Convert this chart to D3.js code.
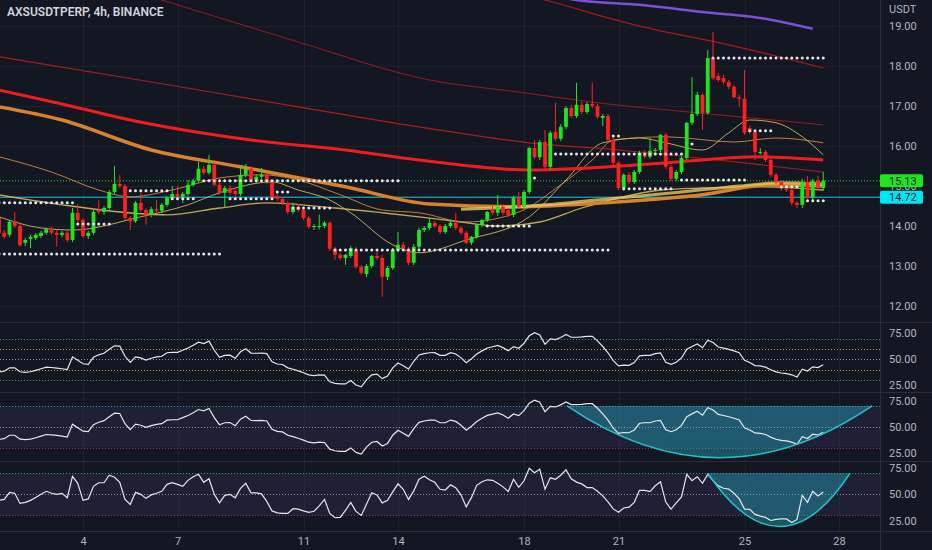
<!DOCTYPE html>
<html>
<head>
<meta charset="utf-8">
<script src="https://cdn.jsdelivr.net/npm/d3@7"></script>
<style>
  html, body { margin: 0; padding: 0; background: #131722; }
  svg { display: block; }
  text { font-family: Roboto, "Noto Sans", sans-serif; }
</style>
</head>
<body>
<div id="chart"></div>
<script>
// ---------- data ----------
const candleStart = new Date(2022, 6, 1, 8);   // first 4h bar
const barHours = 4;

// [open, high, low, close]
const ohlc = [
  [14.20,14.28,13.75,13.83],[13.83,13.90,13.68,13.73],[13.78,14.15,13.72,14.10],[14.12,14.35,13.95,14.00],
  [14.00,14.05,13.48,13.52],[13.58,13.70,13.50,13.65],[13.68,13.78,13.45,13.73],[13.70,13.82,13.65,13.78],
  [13.75,13.88,13.70,13.83],[13.83,13.96,13.78,13.92],[13.92,13.98,13.78,13.83],[13.83,13.90,13.48,13.78],
  [13.78,13.88,13.72,13.83],[13.83,13.88,13.60,13.65],[13.65,14.45,13.60,14.33],[14.33,14.55,14.10,14.15],
  [14.15,14.20,13.70,13.75],[13.75,13.88,13.68,13.83],[13.83,14.40,13.78,14.35],[14.40,14.65,14.30,14.35],
  [14.35,14.50,14.28,14.45],[14.45,14.90,14.40,14.85],[14.85,15.50,14.80,15.05],[15.05,15.28,14.95,15.00],
  [15.00,15.05,14.15,14.20],[14.20,14.25,13.90,14.12],[14.12,14.62,14.08,14.58],[14.58,14.83,14.35,14.40],
  [14.40,14.45,14.03,14.28],[14.28,14.48,14.22,14.42],[14.42,14.65,14.32,14.38],[14.38,14.58,14.32,14.53],
  [14.53,14.75,14.48,14.70],[14.70,15.00,14.65,14.80],[14.80,15.00,14.68,14.73],[14.73,14.85,14.58,14.80],
  [14.80,15.15,14.75,15.03],[15.03,15.18,14.98,15.13],[15.13,15.60,15.08,15.43],[15.43,15.50,15.28,15.33],
  [15.33,15.78,15.28,15.53],[15.53,15.58,15.00,15.03],[15.03,15.08,14.78,14.83],[14.83,15.00,14.48,14.95],
  [14.95,15.02,14.78,14.83],[14.88,14.95,14.75,14.80],[14.80,15.50,14.75,15.28],[15.28,15.55,15.22,15.43],
  [15.43,15.50,15.12,15.15],[15.15,15.28,15.08,15.23],[15.23,15.45,15.18,15.28],[15.28,15.33,15.05,15.10],
  [15.10,15.15,14.65,14.70],[14.75,14.80,14.62,14.68],[14.68,14.73,14.52,14.58],[14.58,14.62,14.30,14.35],
  [14.35,14.58,14.30,14.48],[14.48,14.55,14.35,14.40],[14.40,14.45,14.15,14.20],[14.20,14.25,13.93,13.98],
  [13.98,14.05,13.90,14.00],[13.98,14.28,13.92,14.00],[14.00,14.12,13.95,14.08],[14.08,14.12,13.38,13.43],
  [13.43,13.48,13.15,13.28],[13.28,13.32,13.15,13.20],[13.20,13.30,13.03,13.28],[13.25,13.50,13.20,13.45],
  [13.40,13.48,12.93,12.98],[12.98,13.02,12.78,12.83],[12.80,13.05,12.72,13.00],[13.00,13.28,12.95,13.25],
  [13.25,13.35,13.15,13.20],[13.20,13.28,12.23,12.73],[12.73,13.00,12.65,12.95],[12.95,13.45,12.90,13.40],
  [13.40,13.85,13.35,13.53],[13.53,13.60,13.38,13.43],[13.43,13.48,13.02,13.08],[13.08,13.55,13.02,13.48],
  [13.48,13.95,13.42,13.90],[13.90,14.00,13.85,13.95],[13.95,14.20,13.90,14.08],[14.08,14.12,13.95,14.00],
  [14.00,14.05,13.80,13.85],[13.85,14.05,13.80,14.00],[14.00,14.12,13.95,14.08],[14.08,14.33,13.90,13.95],
  [13.95,14.00,13.78,13.83],[13.83,13.88,13.55,13.58],[13.58,13.75,13.52,13.73],[13.73,14.05,13.68,14.03],
  [14.03,14.18,13.98,14.15],[14.15,14.38,14.10,14.35],[14.40,14.50,14.28,14.33],[14.33,14.78,14.25,14.48],
  [14.48,14.55,14.28,14.33],[14.40,14.45,14.22,14.28],[14.28,14.75,14.22,14.70],[14.70,14.85,14.42,14.48],
  [14.48,14.90,14.42,14.85],[14.85,15.98,14.80,15.95],[15.95,16.15,15.68,15.72],[15.72,16.15,15.65,16.10],
  [16.10,16.40,15.42,15.48],[15.48,16.38,15.42,16.33],[16.35,17.08,16.12,16.18],[16.18,16.55,16.12,16.48],
  [16.48,17.00,16.42,16.95],[16.95,17.02,16.70,16.75],[16.75,17.58,16.70,17.03],[17.03,17.10,16.80,16.85],
  [16.85,17.10,16.80,17.05],[17.05,17.58,16.95,17.00],[17.00,17.05,16.68,16.73],[16.70,16.80,16.50,16.75],
  [16.75,16.80,16.10,16.15],[16.15,16.20,15.52,15.58],[15.58,15.62,14.90,14.95],[14.95,15.32,14.88,15.28],
  [15.28,15.35,15.05,15.10],[15.10,15.40,15.05,15.35],[15.35,15.88,15.30,15.83],[15.83,15.90,15.68,15.73],
  [15.73,16.20,15.68,15.88],[15.88,15.95,15.82,15.90],[15.90,16.30,15.85,16.28],[16.28,16.33,15.42,15.48],
  [15.48,15.52,15.12,15.18],[15.18,15.40,15.12,15.35],[15.35,15.75,15.30,15.70],[15.70,16.60,15.65,16.58],
  [16.58,17.72,16.52,16.80],[16.80,17.35,16.75,17.28],[17.28,17.32,16.40,16.83],[16.83,18.40,16.78,18.20],
  [18.20,18.85,17.65,17.70],[17.75,17.82,17.60,17.65],[17.70,17.78,17.55,17.60],[17.60,17.65,17.42,17.48],
  [17.48,17.52,17.18,17.22],[17.22,17.28,16.98,17.18],[17.18,17.90,16.28,16.33],[16.45,16.50,16.30,16.35],
  [16.35,16.40,15.65,15.85],[15.83,15.95,15.78,15.85],[15.85,15.90,15.60,15.65],[15.65,15.70,15.22,15.28],
  [15.28,15.33,15.05,15.10],[15.10,15.15,14.88,14.93],[14.93,15.00,14.85,14.90],[14.90,14.95,14.52,14.58],
  [14.58,14.62,14.45,14.53],[14.53,15.18,14.45,15.10],[15.10,15.25,14.68,14.72],[14.72,15.18,14.65,15.13],
  [15.13,15.25,14.90,14.95],[14.95,15.35,14.88,15.13]
];

// slow RSI (drawn in pane 1 and pane 2)
const rsiSlow = [
  37.8,38.5,41.8,41.8,38.0,37.5,38.0,39.4,40.9,42.5,42.1,41.6,40.9,40.1,52.4,49.0,45.7,45.2,51.9,54.3,
  55.8,59.6,63.0,62.7,52.9,47.1,52.4,51.4,49.3,51.0,52.3,52.9,56.3,56.7,56.7,58.7,60.8,63.5,66.5,65.2,
  67.5,58.7,51.9,53.8,54.0,51.0,57.2,60.1,56.0,55.8,56.0,55.5,47.6,45.5,45.0,41.8,40.4,38.9,37.1,35.1,
  34.4,35.1,34.8,28.4,26.9,26.3,26.3,29.6,25.3,23.6,30.3,35.1,35.8,31.4,33.9,41.8,46.5,43.8,40.7,48.1,
  54.2,55.5,56.3,56.4,53.8,53.8,56.4,55.1,51.4,46.7,50.5,55.0,58.1,60.9,62.1,63.3,61.2,58.2,62.2,60.6,
  65.4,72.6,75.5,73.5,64.4,69.6,69.0,71.0,73.8,71.2,71.2,71.5,72.1,72.1,67.7,62.3,56.3,48.7,43.6,44.4,
  44.2,46.9,53.3,53.8,53.8,55.5,56.1,47.1,45.2,47.1,51.3,59.6,62.3,64.8,61.1,68.3,66.1,61.8,60.8,59.6,
  58.1,56.4,49.0,46.9,44.0,43.6,42.5,40.0,37.9,36.8,36.3,35.1,33.0,40.4,38.7,42.8,42.0,44.7
];

// fast RSI (pane 3)
const rsiFast = [
  44.3,45.2,51.9,51.0,41.4,42.4,44.3,47.1,50.0,52.9,51.0,50.0,51.0,46.7,67.1,60.5,44.3,45.7,57.6,61.0,
  61.0,68.1,66.2,61.4,45.2,40.5,51.9,50.0,46.2,49.5,51.0,52.9,59.5,61.1,59.5,57.6,63.3,66.7,69.0,61.4,
  64.8,50.0,41.9,49.0,50.0,46.7,55.7,60.5,51.4,51.4,50.5,43.3,34.3,32.4,31.9,31.9,36.4,35.9,34.3,32.9,
  34.0,39.0,45.2,31.9,27.8,28.1,34.8,42.4,33.8,30.0,40.5,51.6,49.5,41.9,44.3,52.4,60.0,54.8,45.2,53.3,
  64.3,67.1,63.8,61.4,54.8,54.1,59.0,56.2,49.5,38.1,47.1,58.6,61.9,63.8,63.3,60.5,57.1,52.7,64.3,56.7,
  62.9,74.8,70.5,73.8,54.8,65.7,64.3,68.1,73.3,64.8,61.6,59.9,56.4,56.4,52.9,48.6,42.9,36.2,33.1,37.1,
  37.9,42.4,53.8,53.8,52.6,58.1,61.9,42.7,36.0,41.9,47.6,69.0,62.9,66.7,60.5,69.0,63.0,58.0,55.8,55.0,
  51.0,45.7,36.0,35.7,31.0,29.3,28.1,25.2,26.2,26.7,26.7,23.3,26.2,49.0,42.4,52.9,48.4,52.2
];

// moving averages: [bar index, price]
const maRedThick    = [[0,17.40],[12,17.05],[25,16.65],[48,16.15],[66,15.90],[80,15.65],[101,15.40],[122,15.53],[132,15.63],[144,15.73],[157,15.65]];
const maOrangeThick = [[0,16.98],[12,16.65],[29,15.90],[46,15.48],[66,14.98],[82,14.55],[99,14.48],[115,14.58],[134,14.78],[147,15.03],[157,15.00]];
const maYellowThick = [[88,14.42],[99,14.48],[114,14.65],[130,14.85],[141,15.00],[149,15.08],[157,15.05]];
const maRedA   = [[0,20.85],[31,19.65],[57,18.60],[82,17.65],[99,17.35],[114,17.08],[133,16.83],[157,16.53]];
const maRedB   = [[0,18.23],[29,17.60],[57,16.98],[80,16.48],[101,16.08],[118,15.90],[137,15.65],[157,15.35]];
const maRedC   = [[95,19.95],[104,19.65],[121,19.03],[139,18.53],[157,17.95]];
const maPurple = [[107,19.72],[110,19.65],[122,19.53],[134,19.35],[145,19.20],[155,18.93]];
const maTanFast = [[0,14.23],[8,13.95],[14,13.90],[27,14.23],[36,14.53],[42,14.83],[52,15.10],[57,14.90],[63,14.65],[67,14.33],
  [75,13.53],[80,13.33],[89,13.65],[101,14.23],[108,15.15],[115,16.08],[122,16.20],[127,16.08],[134,15.90],[139,16.33],
  [143,16.65],[148,16.58],[153,16.23],[157,15.78]];
const maOrangeMid = [[0,15.73],[10,15.35],[19,14.90],[25,14.73],[33,14.90],[42,15.20],[50,15.28],[57,15.15],[65,14.78],[73,14.40],
  [80,14.33],[89,14.10],[99,14.35],[107,15.03],[113,15.65],[117,16.15],[127,16.23],[140,16.10],[148,16.20],[157,16.08]];
const maTanSlow = [[0,14.78],[12,14.53],[23,14.35],[32,14.28],[42,14.45],[51,14.58],[64,14.45],[73,14.33],[80,14.23],[88,14.10],
  [95,14.00],[103,14.10],[111,14.45],[118,14.70],[126,14.90],[134,14.95],[145,14.98],[157,14.90]];

// dotted pivot levels: [price, first bar, last bar]
const pivots = [
  [14.58,0,14],[13.30,0,42],[14.05,15,21],[14.88,25,32],[14.68,33,37],[15.13,39,76],[14.68,44,52],
  [14.85,53,55],[14.45,56,63],[13.40,64,116],[14.00,93,101],[15.20,102,102],[15.80,106,130],[16.25,117,118],
  [14.93,119,128],[15.15,130,142],[16.05,132,132],[18.20,136,157],[16.38,143,147],[14.98,149,152],[14.63,154,157]
];

// arc drawings on the RSI panes: [bar index, value] for start, bottom, end
const arcSlow = [[108.2,70],[137.3,20.2],[166.3,70]];
const arcFast = [[135,70],[148.8,19.5],[162.1,70]];

const lastPrice = 15.13;
const hLinePrice = 14.72;
const priceTicks = [19, 18, 17, 16, 15, 14, 13, 12];
const rsiTicks = [75, 50, 25];
const dayTicks = [4, 7, 11, 14, 18, 21, 25, 28];

// ---------- layout ----------
const width = 932, height = 550;
const plotRight = 880;
const mainBottom = 322;
const panes = [
  { top: 322, bottom: 392, r75: 333.3, r25: 385.3 },
  { top: 392, bottom: 461, r75: 400.7, r25: 452.7 },
  { top: 461, bottom: 531, r75: 468, r25: 520.7 }
];
const axisY = 531;

const bg = "#131722";
const gridColor = "#1e222d";
const textColor = "#b2b5be";

const svg = d3.select("#chart")
  .append("svg")
  .attr("width", width)
  .attr("height", height)
  .style("background", bg);

// ---------- scales ----------
const barTime = i => new Date(candleStart.getTime() + i * barHours * 3600e3);

const x = d3.scaleTime()
  .domain([new Date(2022, 6, 4), new Date(2022, 6, 28)])
  .range([83, 839]);

const y = d3.scaleLinear()
  .domain([19, 12])
  .range([26, 306]);

const defs = svg.append("defs");
defs.append("clipPath").attr("id", "clip-main")
  .append("rect").attr("x", 0).attr("y", 0).attr("width", plotRight).attr("height", mainBottom);

// vertical grid through all panes
svg.append("g")
  .selectAll("line")
  .data(dayTicks)
  .join("line")
  .attr("x1", d => Math.round(x(new Date(2022, 6, d))) + 0.5)
  .attr("x2", d => Math.round(x(new Date(2022, 6, d))) + 0.5)
  .attr("y1", 0)
  .attr("y2", axisY)
  .attr("stroke", gridColor);

// ---------- main pane ----------
const main = svg.append("g").attr("clip-path", "url(#clip-main)");

main.append("g")
  .selectAll("line")
  .data(priceTicks)
  .join("line")
  .attr("x1", 0)
  .attr("x2", plotRight)
  .attr("y1", d => Math.round(y(d)) + 0.5)
  .attr("y2", d => Math.round(y(d)) + 0.5)
  .attr("stroke", gridColor);

// horizontal line and last price line
main.append("line")
  .attr("x1", 0).attr("x2", plotRight)
  .attr("y1", y(hLinePrice)).attr("y2", y(hLinePrice))
  .attr("stroke", "#1fc8dc").attr("stroke-width", 1);

main.append("line")
  .attr("x1", 0).attr("x2", plotRight)
  .attr("y1", y(lastPrice)).attr("y2", y(lastPrice))
  .attr("stroke", "#2ecc40").attr("stroke-width", 1)
  .attr("stroke-dasharray", "1,2");

// moving averages
const maLine = d3.line()
  .x(d => x(barTime(d[0])))
  .y(d => y(d[1]))
  .curve(d3.curveMonotoneX);

const maStyles = [
  { data: maTanSlow,     color: "#d6b654", w: 1.3, op: 0.9 },
  { data: maOrangeMid,   color: "#d3893a", w: 1,   op: 0.9 },
  { data: maTanFast,     color: "#cdb95c", w: 1,   op: 0.9 },
  { data: maRedB,        color: "#b41c1c", w: 1.2, op: 0.95 },
  { data: maRedA,        color: "#a51818", w: 1,   op: 0.95 },
  { data: maRedC,        color: "#b01a1a", w: 1.2, op: 0.95 },
  { data: maOrangeThick, color: "#d9822b", w: 3.5, op: 1 },
  { data: maYellowThick, color: "#e6c865", w: 3,   op: 0.8 },
  { data: maRedThick,    color: "#f21c1c", w: 3,   op: 1 },
  { data: maPurple,      color: "#7c4fd8", w: 2.5, op: 1 }
];

main.append("g")
  .selectAll("path")
  .data(maStyles)
  .join("path")
  .attr("d", d => maLine(d.data))
  .attr("fill", "none")
  .attr("stroke", d => d.color)
  .attr("stroke-width", d => d.w)
  .attr("stroke-opacity", d => d.op);

// candles
const up = "#1ee61e", down = "#ff1f1f";
const candles = main.append("g")
  .selectAll("g")
  .data(ohlc)
  .join("g");

candles.append("line")
  .attr("x1", (d, i) => x(barTime(i)))
  .attr("x2", (d, i) => x(barTime(i)))
  .attr("y1", d => y(d[1]))
  .attr("y2", d => y(d[2]))
  .attr("stroke", d => d[3] >= d[0] ? up : down)
  .attr("stroke-width", 1);

candles.append("rect")
  .attr("x", (d, i) => x(barTime(i)) - 1.9)
  .attr("width", 3.8)
  .attr("y", d => y(Math.max(d[0], d[3])))
  .attr("height", d => Math.max(1, Math.abs(y(d[0]) - y(d[3]))))
  .attr("fill", d => d[3] >= d[0] ? up : down);

// pivot dots
const dots = [];
pivots.forEach(([p, a, b]) => {
  for (let i = a; i <= b; i++) dots.push([i, p]);
});
main.append("g")
  .selectAll("circle")
  .data(dots)
  .join("circle")
  .attr("cx", d => x(barTime(d[0])))
  .attr("cy", d => y(d[1]))
  .attr("r", 1.5)
  .attr("fill", "#e8e8ec");

// title
svg.append("text")
  .attr("x", 7)
  .attr("y", 16)
  .attr("fill", "#d1d4dc")
  .style("font-size", "12px")
  .style("font-weight", "600")
  .text("AXSUSDTPERP, 4h, BINANCE");

// ---------- RSI panes ----------
const rsiLine = (yy) => d3.line()
  .x((d, i) => x(barTime(i)))
  .y(d => yy(d));

function arcPath(yy, arc) {
  const [s, v, e] = arc;
  const x0 = x(barTime(s[0])), y0 = yy(s[1]);
  const x1 = x(barTime(e[0])), y1 = yy(e[1]);
  const xv = x(barTime(v[0])), yv = yy(v[1]);
  const p = d3.path();
  p.moveTo(x0, y0);
  p.quadraticCurveTo(xv, 2 * yv - (y0 + y1) / 2, x1, y1);
  return p;
}

const paneCfg = [
  { series: rsiSlow, band: false, arc: null,
    levels: [[70, "#2a9d9d"], [60, "#b3a443"], [50, "#8f929b"], [40, "#b3a443"], [30, "#2a9d9d"]] },
  { series: rsiSlow, band: true, arc: arcSlow,
    levels: [[70, "#2a9d9d"], [50, "#8f929b"], [30, "#a3304d"]] },
  { series: rsiFast, band: true, arc: arcFast,
    levels: [[70, "#2a9d9d"], [50, "#8f929b"], [30, "#a3304d"]] }
];

panes.forEach((pane, k) => {
  const cfg = paneCfg[k];
  const yy = d3.scaleLinear().domain([75, 25]).range([pane.r75, pane.r25]);

  defs.append("clipPath").attr("id", "clip-pane" + k)
    .append("rect")
    .attr("x", 0).attr("y", pane.top)
    .attr("width", plotRight).attr("height", pane.bottom - pane.top);

  const g = svg.append("g").attr("clip-path", `url(#clip-pane${k})`);

  if (cfg.band) {
    g.append("rect")
      .attr("x", 0).attr("width", plotRight)
      .attr("y", yy(70)).attr("height", yy(30) - yy(70))
      .attr("fill", "#7e57c2").attr("fill-opacity", 0.12);
  }

  g.append("g")
    .selectAll("line")
    .data(cfg.levels)
    .join("line")
    .attr("x1", 0).attr("x2", plotRight)
    .attr("y1", d => Math.round(yy(d[0])) + 0.5)
    .attr("y2", d => Math.round(yy(d[0])) + 0.5)
    .attr("stroke", d => d[1])
    .attr("stroke-dasharray", "1,2");

  if (cfg.arc) {
    g.append("path")
      .attr("d", arcPath(yy, cfg.arc).toString() + "Z")
      .attr("fill", "#26c6da").attr("fill-opacity", 0.36);
  }

  g.append("path")
    .attr("d", rsiLine(yy)(cfg.series))
    .attr("fill", "none")
    .attr("stroke", "#e6e7eb")
    .attr("stroke-width", 1.2);

  if (cfg.arc) {
    g.append("path")
      .attr("d", arcPath(yy, cfg.arc).toString())
      .attr("fill", "none")
      .attr("stroke", "#26c0c8")
      .attr("stroke-width", 1.5);
  }

  // pane scale labels
  svg.append("g")
    .attr("transform", `translate(${plotRight},0)`)
    .call(d3.axisRight(yy).tickValues(rsiTicks).tickFormat(d3.format(".2f")).tickSize(0).tickPadding(9))
    .call(a => a.select(".domain").remove())
    .selectAll("text")
    .attr("fill", textColor)
    .style("font-size", "11px")
    .style("font-family", "Roboto, 'Noto Sans', sans-serif");
});

// ---------- separators ----------
svg.append("g")
  .selectAll("line")
  .data([mainBottom, 392, 461, axisY])
  .join("line")
  .attr("x1", 0).attr("x2", width)
  .attr("y1", d => d + 0.5).attr("y2", d => d + 0.5)
  .attr("stroke", "#2a2e39");

svg.append("line")
  .attr("x1", plotRight + 0.5).attr("x2", plotRight + 0.5)
  .attr("y1", 0).attr("y2", height)
  .attr("stroke", "#2a2e39");

// ---------- price axis ----------
svg.append("g")
  .attr("transform", `translate(${plotRight},0)`)
  .call(d3.axisRight(y).tickValues(priceTicks).tickFormat(d3.format(".2f")).tickSize(0).tickPadding(9))
  .call(a => a.select(".domain").remove())
  .selectAll("text")
  .attr("fill", textColor)
  .style("font-size", "11px")
  .style("font-family", "Roboto, 'Noto Sans', sans-serif");

svg.append("text")
  .attr("x", 889)
  .attr("y", 13)
  .attr("fill", textColor)
  .style("font-size", "11px")
  .text("USDT");

// price tags
const tags = [
  { price: lastPrice, fill: "#1ee61e" },
  { price: hLinePrice, fill: "#00e5f5" }
];
const tagG = svg.append("g")
  .selectAll("g")
  .data(tags)
  .join("g")
  .attr("transform", d => `translate(${plotRight},${y(d.price)})`);

tagG.append("rect")
  .attr("x", 0).attr("y", -6.5)
  .attr("width", 43).attr("height", 13)
  .attr("rx", 2)
  .attr("fill", d => d.fill);

tagG.append("text")
  .attr("x", 9).attr("y", 4)
  .attr("fill", "#131722")
  .style("font-size", "11px")
  .text(d => d3.format(".2f")(d.price));

// ---------- time axis ----------
svg.append("g")
  .attr("transform", `translate(0,${axisY})`)
  .call(d3.axisBottom(x)
    .tickValues(dayTicks.map(d => new Date(2022, 6, d)))
    .tickFormat(d3.timeFormat("%-d"))
    .tickSize(0)
    .tickPadding(6))
  .call(a => a.select(".domain").remove())
  .selectAll("text")
  .attr("fill", textColor)
  .style("font-size", "11px")
  .style("font-family", "Roboto, 'Noto Sans', sans-serif");
</script>
</body>
</html>
